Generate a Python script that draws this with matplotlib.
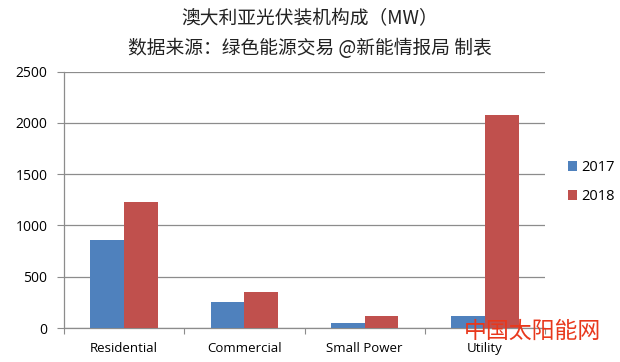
import matplotlib
matplotlib.use("Agg")
import matplotlib.pyplot as plt
import numpy as np

# Data
categories = ["Residential", "Commercial", "Small Power", "Utility"]
mw_2017 = [860, 250, 50, 120]
mw_2018 = [1230, 350, 115, 2080]
yticks = [0, 500, 1000, 1500, 2000, 2500]

BLUE = "#4F81BD"
RED = "#C0504D"
GRID = "#8c8c8c"


def main():
    plt.rcParams["font.family"] = ["Open Sans", "DejaVu Sans"]
    fig = plt.figure(figsize=(6.2, 3.62), dpi=100)
    ax = fig.add_axes([64 / 620, (362 - 328) / 362, (545 - 64) / 620, (328 - 71.5) / 362])

    x = np.arange(len(categories))
    w = 0.28
    ax.bar(x - w / 2, mw_2017, w, color=BLUE, label="2017", zorder=3)
    ax.bar(x + w / 2, mw_2018, w, color=RED, label="2018", zorder=3)

    ax.set_xlim(-0.5, len(categories) - 0.5)
    ax.set_ylim(0, 2500)
    ax.set_yticks(yticks)
    ax.yaxis.grid(True, color=GRID, linewidth=0.9, zorder=0)

    # category labels centred, tick marks between categories
    ax.set_xticks(np.arange(len(categories) + 1) - 0.5)
    ax.set_xticklabels([])
    ax.set_xticks(x, minor=True)
    ax.set_xticklabels(categories, minor=True, fontsize=9.5)
    ax.tick_params(axis="x", which="minor", length=0, pad=10)
    ax.tick_params(axis="x", which="major", length=4, color=GRID, direction="out")
    ax.tick_params(axis="y", length=5, color=GRID, labelsize=10, pad=7)

    for s in ["top", "right"]:
        ax.spines[s].set_visible(False)
    for s in ["left", "bottom"]:
        ax.spines[s].set_color(GRID)
        ax.spines[s].set_linewidth(0.9)

    ax.legend(loc="upper left", bbox_to_anchor=(1.02, 0.705), frameon=False,
              fontsize=10.5, handlelength=0.65, handleheight=0.65,
              handletextpad=0.25, labelspacing=0.95)

    cjk = ["Noto Sans CJK SC", "DejaVu Sans"]
    fig.text(0.5, 1 - 19 / 362, "澳大利亚光伏装机构成（MW）", ha="center", va="center",
             fontsize=13.5, family=cjk, color="#222222")
    fig.text(0.5, 1 - 48.5 / 362, "数据来源：绿色能源交易 @新能情报局 制表", ha="center",
             va="center", fontsize=13.5, family=cjk, color="#222222")

    # watermark
    fig.text(532 / 620, 1 - 331 / 362, "中国太阳能网", ha="center", va="center",
             fontsize=16.5, family=cjk, color="#E8381C", weight="medium")

    fig.savefig("out.png", dpi=100)


if __name__ == "__main__":
    main()
